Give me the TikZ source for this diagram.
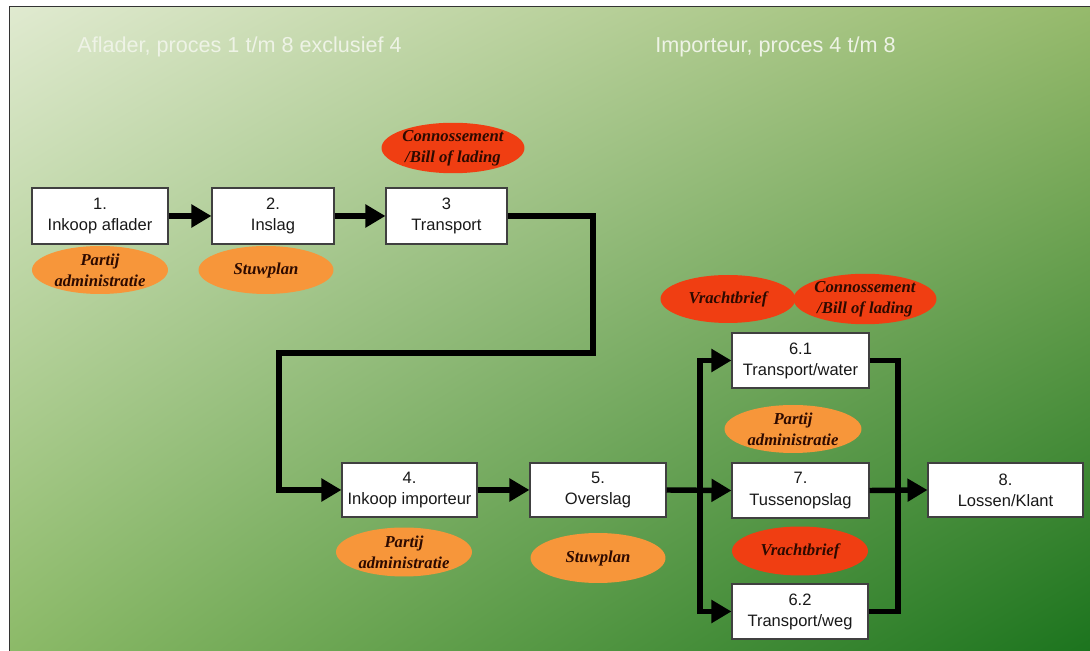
\documentclass[tikz,border=0pt]{standalone}
\usepackage{fontspec}
\setmainfont{Liberation Sans}
\newfontfamily\tnr{Liberation Serif}
\usetikzlibrary{shapes.geometric,arrows.meta,shadings}
\definecolor{bgTL}{RGB}{224,234,208}
\definecolor{bgTR}{RGB}{150,186,108}
\definecolor{bgBL}{RGB}{140,186,104}
\definecolor{bgBR}{RGB}{28,116,30}
\definecolor{orangeE}{RGB}{247,150,58}
\definecolor{redE}{RGB}{240,62,18}
\definecolor{etext}{RGB}{45,10,0}
\definecolor{btext}{RGB}{25,25,25}
\definecolor{htext}{RGB}{238,243,230}
\tikzset{
  box/.style={draw=black!75, line width=0.6pt, fill=white, rectangle, inner sep=0pt, align=center,
    text=btext, font=\fontsize{9.4}{12}\selectfont},
  doc/.style={ellipse, draw=none, inner sep=0pt, align=center, text=etext,
    font=\tnr\bfseries\itshape\fontsize{9.5}{12}\selectfont},
  docO/.style={doc, fill=orangeE},
  docR/.style={doc, fill=redE},
  flow/.style={line width=3.1pt, line join=miter, line cap=butt},
  arr/.style={flow, -{Triangle[length=0.4cm,width=0.44cm]}},
  header/.style={anchor=west, inner sep=0pt, text=htext, font=\fontsize{12.3}{14}\selectfont}
}
\begin{document}
\begin{tikzpicture}[x=0.02cm,y=-0.02cm]
\useasboundingbox (0,0) rectangle (1090,651);
\fill[white] (0,0) rectangle (1090,651);
\shade[upper left=bgTL, upper right=bgTR, lower left=bgBL, lower right=bgBR] (9.5,6.5) rectangle (1090,651);
\draw[line width=0.8pt, black!80] (9.5,651) -- (9.5,6.5) -- (1090,6.5);

\node[header] (h1) at (77,47) {Aflader, proces 1 t/m 8 exclusief 4};
\node[header] (h2) at (655,47) {Importeur, proces 4 t/m 8};

% boxes
\node[box, minimum width=2.72cm, minimum height=1.12cm] (b1) at (100,216) {1.\\Inkoop aflader};
\node[box, minimum width=2.44cm, minimum height=1.12cm] (b2) at (273,216) {2.\\Inslag};
\node[box, minimum width=2.42cm, minimum height=1.12cm] (b3) at (446.5,216) {3\\Transport};
\node[box, minimum width=2.70cm, minimum height=1.08cm] (b4) at (409.5,490) {4.\\Inkoop importeur};
\node[box, minimum width=2.72cm, minimum height=1.08cm] (b5) at (598,490) {5.\\Overslag};
\node[box, minimum width=2.74cm, minimum height=1.10cm] (b61) at (800.5,360.5) {6.1\\Transport/water};
\node[box, minimum width=2.74cm, minimum height=1.10cm] (b7) at (800.5,490.5) {7.\\Tussenopslag};
\node[box, minimum width=2.72cm, minimum height=1.10cm] (b62) at (800,611.5) {6.2\\Transport/weg};
\node[box, minimum width=3.10cm, minimum height=1.08cm] (b8) at (1005.5,490) {8.\\Lossen/Klant};

% documents
\node[docR, minimum width=2.68cm, minimum height=0.98cm] (e1) at (453,148) {Connossement\\/Bill of lading};
\node[docO, minimum width=2.72cm, minimum height=0.96cm] (e2) at (100,270) {Partij\\administratie};
\node[docO, minimum width=2.70cm, minimum height=0.96cm] (e3) at (266,270) {Stuwplan};
\node[docR, minimum width=2.70cm, minimum height=0.96cm] (e4) at (728,299) {Vrachtbrief};
\node[docR, minimum width=2.72cm, minimum height=0.96cm] (e5) at (865,299) {Connossement\\/Bill of lading};
\node[docO, minimum width=2.74cm, minimum height=0.96cm] (e6) at (793,429) {Partij\\administratie};
\node[docO, minimum width=2.72cm, minimum height=0.98cm] (e7) at (404,552) {Partij\\administratie};
\node[docO, minimum width=2.70cm, minimum height=1.00cm] (e8) at (598,558) {Stuwplan};
\node[docR, minimum width=2.72cm, minimum height=0.98cm] (e9) at (800,551) {Vrachtbrief};

% connectors
\draw[arr] (b1.east) -- (b2.west);
\draw[arr] (b2.east) -- (b3.west);
\coordinate (c1) at (593,216);
\coordinate (c2) at (593,353);
\coordinate (c3) at (279,353);
\coordinate (c4) at (279,490);
\draw[arr] (b3.east) -- (c1) -- (c2) -- (c3) -- (c4) -- (b4.west);
\draw[arr] (b4.east) -- (b5.west);
\draw[arr] (b5.east) -- (b7.west);
\coordinate (sT) at (700,360.5);
\coordinate (sB) at (700,611.5);
\draw[flow] ([yshift=1.55pt]sT) -- ([yshift=-1.55pt]sB);
\draw[arr] ([xshift=-1.55pt]sT) -- (b61.west);
\draw[arr] ([xshift=-1.55pt]sB) -- (b62.west);
\coordinate (mT) at (898,360.5);
\coordinate (mB) at (898,611.5);
\draw[flow] (b61.east) -- (mT) -- (mB) -- (b62.east);
\draw[arr] (b7.east) -- (b8.west);
\end{tikzpicture}
\end{document}
